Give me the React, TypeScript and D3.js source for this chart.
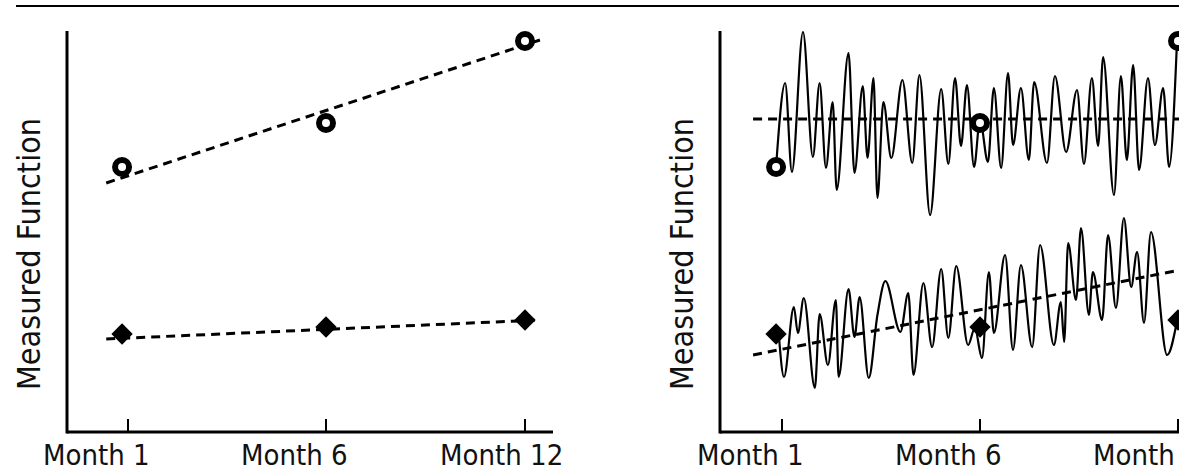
import React, { useEffect } from "react";
import * as d3 from "d3";

// tick labels and where the ticks sit (months)
const tickLabels = ["Month 1", "Month 6", "Month 12"];
const tickMonths = [1, 6, 12];

// the three visits, as plotted (Month 1 markers sit a bit left of the tick)
const markerMonths = [0.85, 6, 12];
const circleValues = [265, 309, 391];
const diamondValues = [98, 105, 112];

// dashed fit lines, [month, value]
const circleFit: [number, number][] = [[0.45, 249], [12.45, 392]];
const diamondFit: [number, number][] = [[0.45, 93], [12.45, 112]];
const flatFit: [number, number][] = [[0.27, 313], [12.05, 313]];
const risingFit: [number, number][] = [[0.27, 77], [12.05, 162]];

// right panel: day-to-day fluctuations (peaks and troughs)
const upperTrace: [number, number][] = [
  [0.85, 265], [1.08, 349], [1.25, 260], [1.53, 400], [1.78, 275], [1.95, 349],
  [2.11, 264], [2.28, 330], [2.38, 242], [2.68, 379], [2.83, 259], [3.04, 346],
  [3.16, 274], [3.31, 354], [3.41, 234], [3.56, 330], [3.76, 274], [4.04, 352],
  [4.29, 269], [4.47, 357], [4.74, 217], [5.02, 343], [5.2, 268], [5.37, 354],
  [5.52, 286], [5.67, 347], [5.85, 265], [6.0, 312], [6.24, 270], [6.42, 344],
  [6.64, 264], [6.85, 359], [7.0, 287], [7.24, 344], [7.48, 272], [7.64, 350],
  [8.03, 269], [8.27, 356], [8.61, 280], [8.94, 342], [9.15, 268], [9.39, 354],
  [9.58, 286], [9.73, 375], [10.06, 237], [10.27, 356], [10.45, 272], [10.64, 367],
  [10.82, 262], [11.09, 354], [11.3, 287], [11.55, 344], [11.73, 265], [11.97, 391],
];

const lowerTrace: [number, number][] = [
  [0.92, 97], [1.05, 55], [1.3, 125], [1.4, 99], [1.55, 134], [1.83, 44],
  [1.95, 118], [2.16, 67], [2.36, 132], [2.43, 55], [2.68, 143], [2.83, 95],
  [2.96, 135], [3.19, 54], [3.41, 117], [3.61, 151], [3.99, 100], [4.19, 139],
  [4.32, 57], [4.57, 149], [4.79, 85], [5.02, 163], [5.2, 94], [5.4, 166],
  [5.7, 87], [5.87, 104], [6.06, 74], [6.27, 160], [6.42, 99], [6.76, 177],
  [7.0, 82], [7.24, 167], [7.58, 85], [7.82, 187], [8.24, 87], [8.45, 130],
  [8.55, 90], [8.67, 189], [8.91, 132], [9.06, 204], [9.3, 117], [9.42, 160],
  [9.7, 112], [9.88, 197], [10.12, 124], [10.36, 214], [10.58, 145], [10.76, 180],
  [10.97, 109], [11.18, 200], [11.67, 77], [11.97, 111],
];

const W = 1179;
const H = 473;
const FONT = "'DejaVu Sans Condensed', 'DejaVu Sans', Verdana, sans-serif";

const yScale = d3.scaleLinear().domain([0, 400]).range([432, 32]);

type PanelProps = {
  axisX: number;
  axisEnd: number;
  tickRange: number[];
  labelX: number;
  children: (x: d3.ScaleLinear<number, number>) => React.ReactNode;
};

const Panel = ({ axisX, axisEnd, tickRange, labelX, children }: PanelProps) => {
  const x = d3.scaleLinear().domain(tickMonths).range(tickRange);
  const y0 = yScale(0);
  return (
    <g>
      {children(x)}
      {/* axes */}
      <line x1={axisX} x2={axisX} y1={31} y2={y0 + 1.5} stroke="#000" strokeWidth={3} />
      <line x1={axisX} x2={axisEnd} y1={y0} y2={y0} stroke="#000" strokeWidth={3} />
      {tickMonths.map((m, i) => (
        <g key={m}>
          <line x1={x(m)} x2={x(m)} y1={y0 - 13} y2={y0} stroke="#000" strokeWidth={2} />
          <text x={x(m) - 85} y={y0 + 33} fontFamily={FONT} fontSize={29} fill="#111">
            {tickLabels[i]}
          </text>
        </g>
      ))}
      <text
        transform={`translate(${labelX},${yScale(0) - 178}) rotate(-90)`}
        textAnchor="middle"
        fontFamily={FONT}
        fontSize={32}
        fill="#111"
      >
        Measured Function
      </text>
    </g>
  );
};

const Markers = ({ x }: { x: d3.ScaleLinear<number, number> }) => {
  const diamond = d3.symbol().type(d3.symbolDiamond2).size(290);
  return (
    <g>
      {markerMonths.map((m, i) => (
        <circle
          key={"c" + i}
          cx={x(m)}
          cy={yScale(circleValues[i])}
          r={7}
          fill="#fff"
          stroke="#000"
          strokeWidth={6}
        />
      ))}
      {markerMonths.map((m, i) => (
        <path
          key={"d" + i}
          d={diamond() ?? ""}
          transform={`translate(${x(m)},${yScale(diamondValues[i])})`}
          fill="#000"
        />
      ))}
    </g>
  );
};

export default function App() {
  useEffect(() => {
    document.body.style.margin = "0";
  }, []);

  const fitLine = (x: d3.ScaleLinear<number, number>) =>
    d3
      .line<[number, number]>()
      .x((d) => x(d[0]))
      .y((d) => yScale(d[1]));

  const traceLine = (x: d3.ScaleLinear<number, number>) =>
    d3
      .line<[number, number]>()
      .x((d) => x(d[0]))
      .y((d) => yScale(d[1]))
      .curve(d3.curveMonotoneX);

  const dash = { stroke: "#000", strokeWidth: 3, strokeDasharray: "9 6", fill: "none" };

  return (
    <svg width={W} height={H} style={{ display: "block", background: "#fff" }}>
      <line x1={16} x2={W} y1={6} y2={6} stroke="#000" strokeWidth={2.2} />

      <Panel axisX={67} axisEnd={553} tickRange={[128, 326, 525]} labelX={40}>
        {(x) => (
          <g>
            <path d={fitLine(x)(circleFit) ?? ""} {...dash} />
            <path d={fitLine(x)(diamondFit) ?? ""} {...dash} />
            <Markers x={x} />
          </g>
        )}
      </Panel>

      <Panel axisX={720} axisEnd={W + 5} tickRange={[782, 980, 1178]} labelX={693}>
        {(x) => (
          <g>
            <path d={fitLine(x)(flatFit) ?? ""} {...dash} />
            <path d={fitLine(x)(risingFit) ?? ""} {...dash} />
            <path d={traceLine(x)(upperTrace) ?? ""} fill="none" stroke="#000" strokeWidth={2.2} />
            <path d={traceLine(x)(lowerTrace) ?? ""} fill="none" stroke="#000" strokeWidth={2.2} />
            <Markers x={x} />
          </g>
        )}
      </Panel>
    </svg>
  );
}
